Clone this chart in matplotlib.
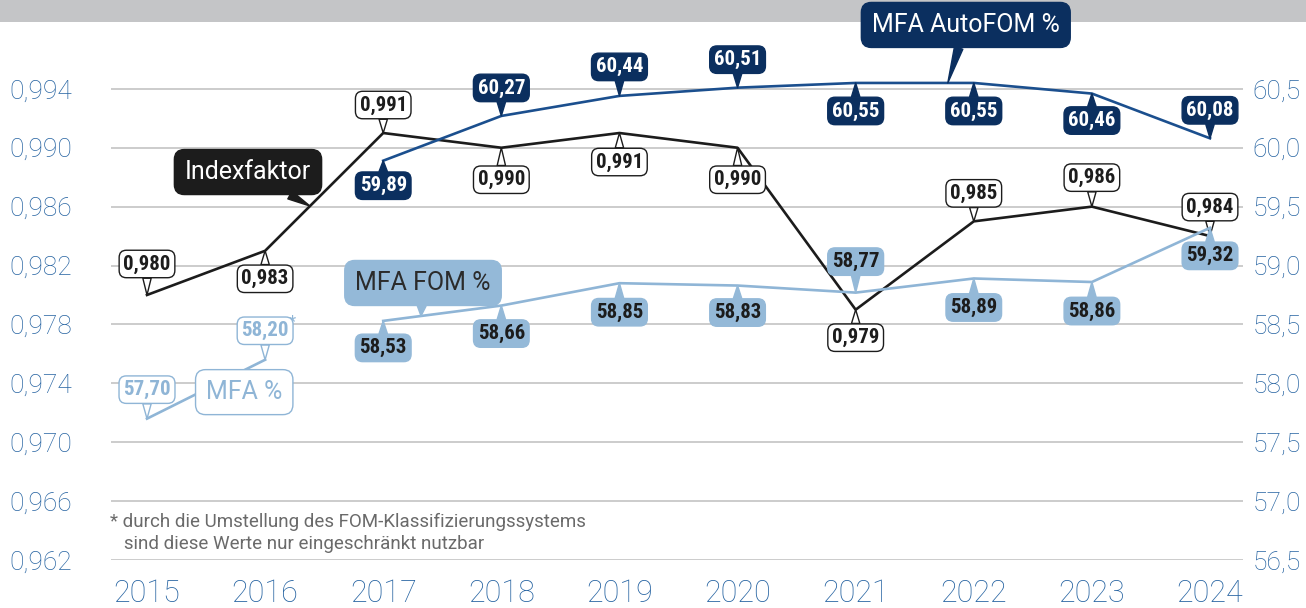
import matplotlib.pyplot as plt
import numpy as np
from matplotlib.patches import Rectangle

years = [2015, 2016, 2017, 2018, 2019, 2020, 2021, 2022, 2023, 2024]
indexfaktor = [0.980, 0.983, 0.991, 0.990, 0.991, 0.990, 0.979, 0.985, 0.986, 0.984]
index_labels = ['0,980', '0,983', '0,991', '0,990', '0,991', '0,990', '0,979', '0,985', '0,986', '0,984']

mfa_years = [2015, 2016]
mfa = [57.70, 58.20]
mfa_labels = ['57,70', '58,20']

fom_years = [2017, 2018, 2019, 2020, 2021, 2022, 2023, 2024]
mfa_fom = [58.53, 58.66, 58.85, 58.83, 58.77, 58.89, 58.86, 59.32]
fom_labels = ['58,53', '58,66', '58,85', '58,83', '58,77', '58,89', '58,86', '59,32']
autofom = [59.89, 60.27, 60.44, 60.51, 60.55, 60.55, 60.46, 60.08]
autofom_labels = ['59,89', '60,27', '60,44', '60,51', '60,55', '60,55', '60,46', '60,08']

left_ticks = [0.962, 0.966, 0.970, 0.974, 0.978, 0.982, 0.986, 0.990, 0.994]
left_ticklabels = ['0,962', '0,966', '0,970', '0,974', '0,978', '0,982', '0,986', '0,990', '0,994']
right_ticks = [56.5, 57.0, 57.5, 58.0, 58.5, 59.0, 59.5, 60.0, 60.5]
right_ticklabels = ['56,5', '57,0', '57,5', '58,0', '58,5', '59,0', '59,5', '60,0', '60,5']

# label offsets in pixels (box centre relative to point)
index_dy = [31, -28, 28, -32, -29, -32, -28, 28, 29, 29]
autofom_dy = [-25, 28, 29, 28, -28, -28, -27, 28]
fom_dy = [-27, -28, -29, -27, 31, -29, -29, -28]
mfa_dy = [29, 29]

BLACK = '#1c1c1c'
NAVY = '#0b2f5f'
NAVY_LINE = '#1b4f8e'
LIGHT = '#94b9d8'
LIGHT_LINE = '#8fb5d6'
TICK = '#2764a2'
GRID = '#c8c8c8'
VALUE_FONT = ['Roboto Condensed', 'DejaVu Sans Condensed', 'Roboto']

plt.rcParams['font.family'] = ['Roboto', 'DejaVu Sans']

W, H = 1306, 608
fig = plt.figure(figsize=(W / 100, H / 100), dpi=100)
fig.patches.append(Rectangle((0, 1 - 22 / H), 1, 22 / H, transform=fig.transFigure,
                             facecolor='#c4c5c7', edgecolor='none', zorder=-1))

ax_left, ax_right, ax_bottom = 111, 1243, 560
ax = fig.add_axes([ax_left / W, 1 - ax_bottom / H, (ax_right - ax_left) / W, ax_bottom / H])
ax.patch.set_visible(False)

px_per_year = (1210 - 147) / 9
ax.set_xlim(2015 - (147 - ax_left) / px_per_year, 2024 + (ax_right - 1210) / px_per_year)
ytop = 0.994 + 89 / 59 * 0.004
ax.set_ylim(0.962, ytop)

ax2 = ax.twinx()
ax2.patch.set_visible(False)
ax2.set_ylim(56.5, 56.5 + (ytop - 0.962) * 125)

for a in (ax, ax2):
    for s in a.spines.values():
        s.set_visible(False)
    a.tick_params(length=0)

ax.set_yticks(left_ticks)
ax.set_yticklabels(left_ticklabels)
ax.tick_params(axis='y', pad=28, labelsize=19, labelcolor=TICK)
ax2.set_yticks(right_ticks)
ax2.set_yticklabels(right_ticklabels)
ax2.tick_params(axis='y', pad=7, labelsize=19, labelcolor=TICK)
ax.set_xticks(years)
ax.set_xticklabels([str(y) for y in years])
ax.tick_params(axis='x', pad=14, labelsize=22, labelcolor=TICK)
for lab in ax.get_yticklabels() + ax2.get_yticklabels() + ax.get_xticklabels():
    lab.set_fontweight('light')

ax.grid(axis='y', color=GRID, lw=1.3)
ax.set_axisbelow(True)

ax.plot(years, indexfaktor, color=BLACK, lw=1.9, zorder=3, clip_on=False)
ax2.plot(mfa_years, mfa, color=LIGHT_LINE, lw=1.9, zorder=2, clip_on=False)
ax2.plot(fom_years, mfa_fom, color=LIGHT_LINE, lw=1.9, zorder=2, clip_on=False)
ax2.plot(fom_years, autofom, color=NAVY_LINE, lw=1.9, zorder=2, clip_on=False)


def callout(a, x, y, text, dx, dy, fc, ec, tc, size=15, weight='bold', family=VALUE_FONT,
            pad=0.2, rnd=0.35, tw=0.4):
    a.annotate(text, xy=(x, y), xytext=(dx, dy), textcoords='offset pixels',
               ha='center', va='center', fontsize=size, fontweight=weight, color=tc,
               family=family,
               bbox=dict(boxstyle=f'round,pad={pad},rounding_size={rnd}', fc=fc, ec=ec, lw=1.0),
               arrowprops=dict(arrowstyle=f'wedge,tail_width={tw}', fc=fc, ec=ec, lw=1.0,
                               shrinkA=0, shrinkB=0),
               annotation_clip=False, zorder=6)


for x, v, t, dy in zip(years, indexfaktor, index_labels, index_dy):
    callout(ax, x, v, t, 0, dy, 'white', BLACK, BLACK)
for x, v, t, dy in zip(fom_years, autofom, autofom_labels, autofom_dy):
    callout(ax2, x, v, t, 0, dy, NAVY, NAVY, 'white')
for x, v, t, dy in zip(fom_years, mfa_fom, fom_labels, fom_dy):
    callout(ax2, x, v, t, 0, dy, LIGHT, LIGHT, BLACK)
for x, v, t, dy in zip(mfa_years, mfa, mfa_labels, mfa_dy):
    callout(ax2, x, v, t, 0, dy, 'white', LIGHT_LINE, LIGHT_LINE)
ax2.annotate('*', xy=(2016, 58.20), xytext=(27, 38), textcoords='offset pixels',
             ha='center', va='center', fontsize=12, color=LIGHT_LINE)

# series names
name_kw = dict(size=18, weight='normal', family=['Roboto', 'DejaVu Sans'],
               pad=0.42, rnd=0.4, tw=0.35)
x0 = 2016.38
callout(ax, x0, np.interp(x0, years, indexfaktor), 'Indexfaktor', -62, 34,
        BLACK, BLACK, 'white', **name_kw)
x0 = 2021.78
callout(ax2, x0, np.interp(x0, fom_years, autofom), 'MFA AutoFOM %', 18, 58,
        NAVY, NAVY, 'white', **name_kw)
x0 = 2017.32
callout(ax2, x0, np.interp(x0, fom_years, mfa_fom), 'MFA FOM %', 2, 33,
        LIGHT, LIGHT, '#2b2b2b', **name_kw)
x0 = 2015.62
callout(ax2, x0, np.interp(x0, mfa_years, mfa), 'MFA %', 24, -10,
        'white', LIGHT_LINE, LIGHT_LINE, **name_kw)

fig.text(110 / W, 1 - 522 / H, '* durch die Umstellung des FOM-Klassifizierungssystems',
         fontsize=13.5, color='#6a6a6a', va='center')
fig.text(110 / W, 1 - 544 / H, '   sind diese Werte nur eingeschränkt nutzbar',
         fontsize=13.5, color='#6a6a6a', va='center')

fig.savefig('out.png', dpi=100)
